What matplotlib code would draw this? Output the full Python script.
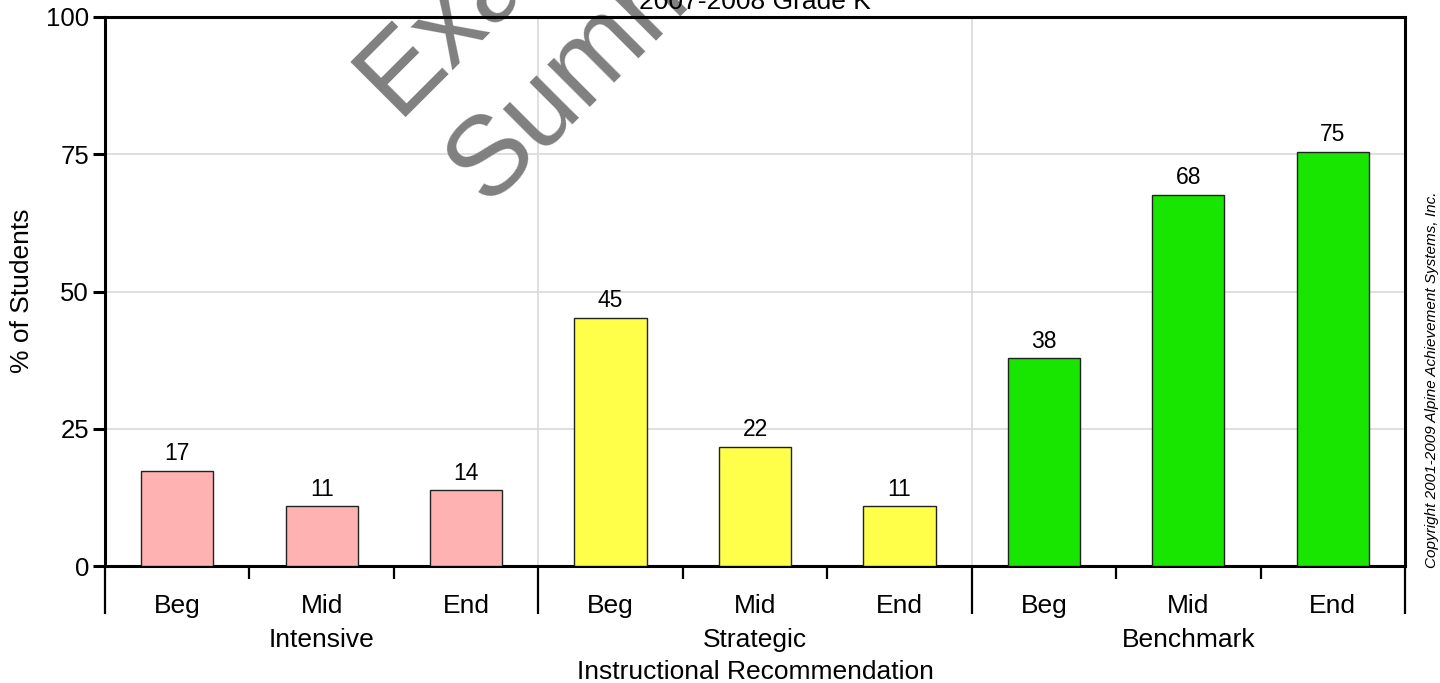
import matplotlib
matplotlib.use("Agg")
import matplotlib.pyplot as plt
from matplotlib.ticker import FixedLocator

plt.rcParams['font.family'] = ['Liberation Sans', 'DejaVu Sans']

# ---- data ----
periods = ["Beg", "Mid", "End", "Beg", "Mid", "End", "Beg", "Mid", "End"]
groups = ["Intensive", "Strategic", "Benchmark"]
values = [17.3, 10.9, 13.8, 45.2, 21.7, 10.9, 37.8, 67.6, 75.4]
value_labels = ["17", "11", "14", "45", "22", "11", "38", "68", "75"]
group_colors = ["#FFB2B2", "#FFFF4A", "#18E600"]
yticks = [0, 25, 50, 75, 100]
title = "2007-2008 Grade K"
xlabel = "Instructional Recommendation"
ylabel = "% of Students"
copyright_text = "Copyright 2001-2009 Alpine Achievement Systems, Inc."
watermark = ["Example", "Summary"]

FS = 19
W, H = 1440, 683
fig = plt.figure(figsize=(W / 100, H / 100), dpi=100)
L, R, T, B = 105, 1405, 17, 566
ax = fig.add_axes([L / W, 1 - B / H, (R - L) / W, (B - T) / H])

n = len(values)
xs = list(range(n))
per_group = n // len(groups)
colors = [group_colors[i // per_group] for i in range(n)]

ax.bar(xs, values, width=0.5, color=colors, edgecolor="#222222", linewidth=1.0, zorder=3)
for x, v, lab in zip(xs, values, value_labels):
    ax.annotate(lab, (x, v), xytext=(0, 4), textcoords="offset points",
                ha="center", va="bottom", fontsize=16.5, color="black", zorder=4)

ax.set_xlim(-0.5, n - 0.5)
ax.set_ylim(0, 100)
ax.set_yticks(yticks)
ax.set_yticklabels([str(t) for t in yticks], fontsize=18.5)

# group boundaries (major) and inner separators (minor)
bounds = [-0.5 + per_group * g for g in range(len(groups) + 1)]
inner = [i - 0.5 for i in range(1, n) if i % per_group != 0]
ax.xaxis.set_major_locator(FixedLocator(bounds))
ax.xaxis.set_minor_locator(FixedLocator(inner))
ax.set_xticklabels([])
ax.tick_params(axis="x", which="major", direction="out", length=34.5, width=1.6, color="black")
ax.tick_params(axis="x", which="minor", direction="out", length=9.5, width=1.6, color="black")
ax.tick_params(axis="y", which="major", direction="out", length=8.5, width=2.2, pad=3, color="black")

# gridlines
ax.set_axisbelow(True)
ax.grid(axis="y", color="#d9d9d9", linewidth=1.2)
for b in bounds[1:-1]:
    ax.axvline(b, color="#d9d9d9", linewidth=1.2, zorder=0.5)

for s in ["left", "right", "top", "bottom"]:
    ax.spines[s].set_linewidth(2.2)
    ax.spines[s].set_color("black")

# category & group labels
tr = ax.get_xaxis_transform()
for x, p in zip(xs, periods):
    ax.text(x, -47 / (B - T), p, transform=tr, ha="center", va="baseline", fontsize=FS)
for g, name in enumerate(groups):
    cx = per_group * g + (per_group - 1) / 2
    ax.text(cx, -81 / (B - T), name, transform=tr, ha="center", va="baseline", fontsize=FS)
ax.text((n - 1) / 2, -113 / (B - T), xlabel, transform=tr, ha="center", va="baseline", fontsize=FS)

# title (partially cut off at the top)
ax.text(0.5, 1 + 8 / (B - T), title, transform=ax.transAxes, ha="center", va="baseline", fontsize=FS)

# y label
fig.text(22 / W, 1 - 291 / H, ylabel, rotation=90, ha="center", va="center", fontsize=FS)

# copyright
fig.text(1432 / W, 1 - 380 / H, copyright_text, rotation=90, ha="center", va="center",
         fontsize=11, style="italic", color="black")

# watermark
wm_pos = [(397, 117), (487, 205)]
for txt, (px, py) in zip(watermark, wm_pos):
    ax.text(px / W, 1 - py / H, txt, transform=fig.transFigure, rotation=45,
            rotation_mode="anchor", ha="left", va="baseline", fontsize=81,
            color="#808080", zorder=2, clip_on=False)

fig.savefig("out.png", dpi=100)
